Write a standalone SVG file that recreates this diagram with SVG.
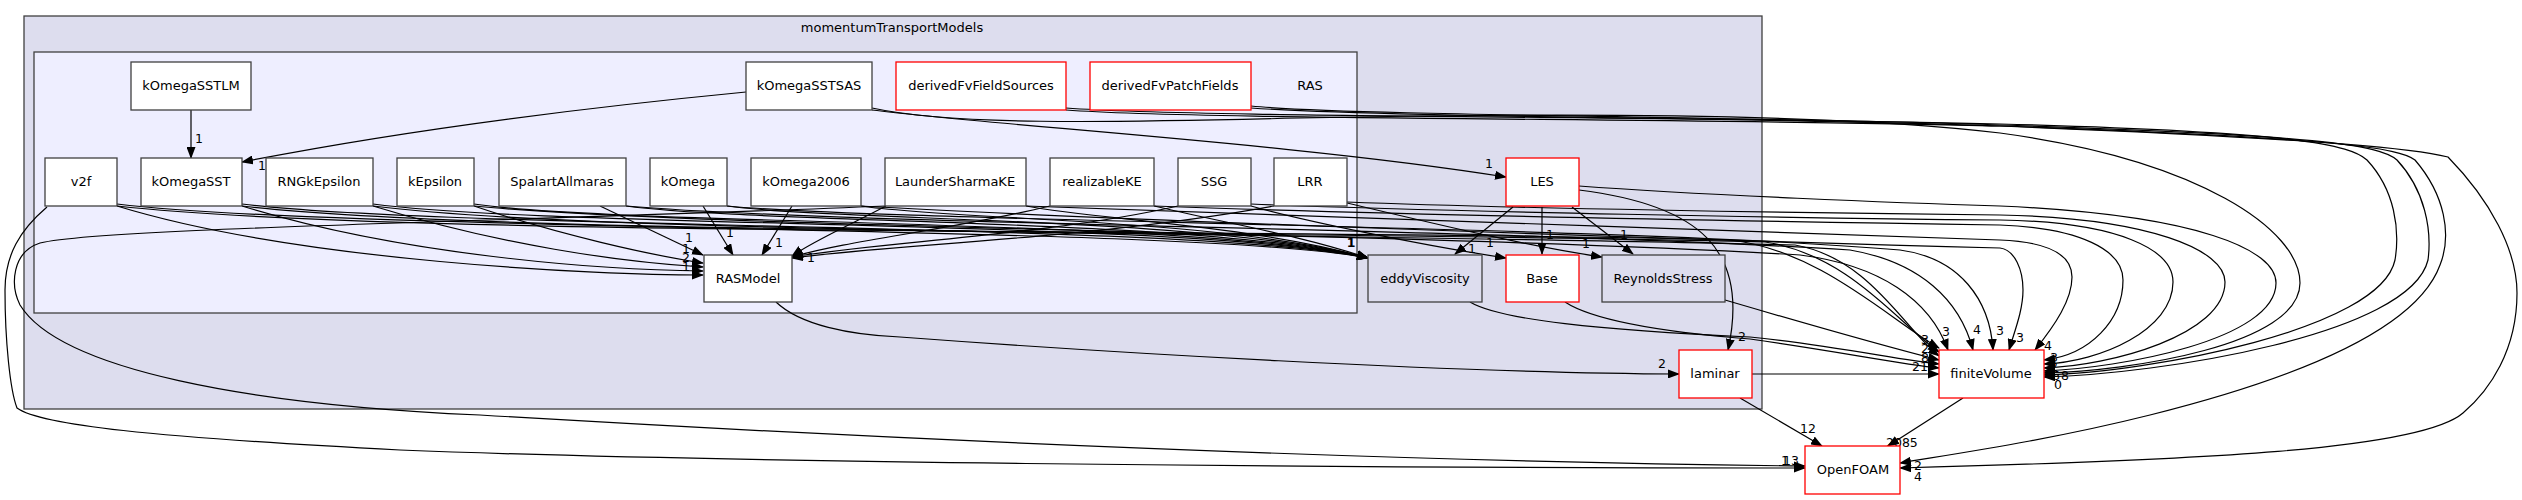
<svg xmlns="http://www.w3.org/2000/svg" width="2522" height="500" viewBox="0 0 2522 500">
<style>
text{font-family:"DejaVu Sans","Liberation Sans",sans-serif;font-size:13px;fill:#000}
.c1{fill:#ddddee;stroke:#404040;stroke-width:1.3}
.c2{fill:#eeeeff;stroke:#404040;stroke-width:1.3}
.n rect{fill:#fff;stroke:#404040;stroke-width:1.3}
.r rect{fill:#fff;stroke:#ff0000;stroke-width:1.3}
.d rect{fill:#ddddee;stroke:#404040;stroke-width:1.3}
.nt{text-anchor:middle}
#edges path{fill:none;stroke:#000;stroke-width:1.2;marker-end:url(#arr)}
.l{font-size:12.5px;text-anchor:middle}
</style>
<defs>
<marker id="arr" viewBox="0 0 12 9" refX="11" refY="4.5" markerWidth="12" markerHeight="9" orient="auto" markerUnits="userSpaceOnUse"><path d="M0,0 L12,4.5 L0,9 z" fill="#000"/></marker>
</defs>
<rect width="2522" height="500" fill="#fff"/>
<g id="clusters">
<rect class="c1" x="24" y="16" width="1738" height="393"/>
<text x="892" y="32" class="nt">momentumTransportModels</text>
<rect class="c2" x="34" y="52" width="1323" height="261"/>
<text x="1310" y="90" class="nt">RAS</text>
</g>
<g id="edges">
<path d="M191,110 L191,158"/>
<path d="M746,92 C 560,110 380,135 242,162"/>
<path d="M872,110 C 1000,126 1300,144 1506,177"/>
<path d="M872,108 C 950,125 1100,123 1300,118 C 1600,112 1850,115 2000,133 C 2200,160 2300,230 2300,283 C 2300,345 2130,371 2044,373"/>
<path d="M1066,108 C 1200,118 1700,116 2000,124 C 2300,132 2350,145 2367,160 C 2395,190 2400,230 2395,260 C 2380,330 2150,372 2044,375"/>
<path d="M1251,106 C 1350,116 1800,117 2000,125 C 2320,135 2380,145 2397,160 C 2425,190 2432,230 2428,260 C 2410,335 2160,374 2044,377"/>
<path d="M1066,110 C 1200,120 1700,118 2000,126 C 2340,138 2400,148 2415,160 C 2445,195 2452,235 2440,265 C 2420,320 2330,370 2150,415 C 2050,440 1960,453 1900,463"/>
<path d="M1251,108 C 1400,118 1800,118 2000,126 C 2350,140 2420,150 2448,157 C 2490,200 2517,250 2517,293 C 2517,350 2490,390 2463,413 C 2420,450 2200,460 1900,468"/>
<path d="M1579,186 C 1700,195 1900,203 2000,206 C 2200,215 2276,250 2276,283 C 2276,340 2120,368 2044,371"/>
<path d="M1347,202 C 1500,208 1800,213 2000,215 C 2150,218 2225,250 2225,282 C 2225,335 2110,366 2044,368"/>
<path d="M1251,204 C 1450,212 1800,218 2000,220 C 2120,222 2173,250 2173,282 C 2173,330 2100,362 2044,364"/>
<path d="M1154,206 C 1400,215 1800,222 2000,225 C 2080,228 2123,250 2123,280 C 2123,320 2090,355 2044,360"/>
<path d="M1026,206 C 1200,215 1700,228 2000,240 C 2050,242 2072,255 2072,277 C 2072,300 2055,325 2035,350"/>
<path d="M861,206 C 1100,220 1700,240 2000,248 C 2015,250 2023,270 2023,290 C 2023,310 2015,330 2009,350"/>
<path d="M727,206 C 900,222 1600,225 1900,250 C 1960,258 1990,300 1993,350"/>
<path d="M626,206 C 850,225 1500,228 1850,250 C 1920,262 1960,300 1973,350"/>
<path d="M474,206 C 700,228 1400,232 1800,255 C 1880,265 1930,300 1948,350"/>
<path d="M117,206 C 400,238 1300,228 1730,240 C 1820,250 1890,320 1939,348"/>
<path d="M242,206 C 500,236 1300,230 1765,242 C 1850,255 1900,325 1939,352"/>
<path d="M373,206 C 600,235 1300,232 1795,245 C 1870,258 1905,330 1939,356"/>
<path d="M1725,300 C 1800,322 1880,345 1939,360"/>
<path d="M1470,302 C 1500,320 1600,330 1750,337 C 1830,345 1900,360 1939,364"/>
<path d="M1565,302 C 1600,325 1700,335 1750,339 C 1830,350 1900,364 1939,368"/>
<path d="M1752,374 L1939,374"/>
<path d="M117,204 C 350,232 1200,225 1368,258"/>
<path d="M242,204 C 450,230 1200,222 1368,258"/>
<path d="M373,204 C 550,228 1200,220 1368,258"/>
<path d="M474,204 C 620,226 1200,218 1368,258"/>
<path d="M626,206 C 760,224 1200,218 1368,258"/>
<path d="M727,206 C 850,222 1200,216 1368,258"/>
<path d="M861,206 C 950,220 1220,218 1368,258"/>
<path d="M1026,206 C 1100,220 1250,225 1368,258"/>
<path d="M1154,206 C 1220,222 1300,235 1368,258"/>
<path d="M117,206 C 300,262 600,275 703,275"/>
<path d="M242,206 C 400,255 600,270 703,271"/>
<path d="M373,206 C 500,245 620,262 703,267"/>
<path d="M474,206 C 560,235 650,255 703,263"/>
<path d="M600,206 L703,255"/>
<path d="M703,206 L733,255"/>
<path d="M792,206 L762,255"/>
<path d="M886,206 C 850,225 815,240 792,256"/>
<path d="M1050,206 C 950,230 850,240 792,257"/>
<path d="M1178,206 C 1050,235 880,242 792,257"/>
<path d="M1274,206 C 1100,238 900,244 792,258"/>
<path d="M1251,206 C 1300,220 1420,245 1506,258"/>
<path d="M1347,203 C 1420,220 1520,245 1602,257"/>
<path d="M1513,207 L1455,254"/>
<path d="M1542,207 L1542,254"/>
<path d="M1572,207 L1633,254"/>
<path d="M1579,190 C 1700,205 1750,250 1728,350"/>
<path d="M776,302 C 800,325 850,335 900,337 C 1100,352 1450,373 1679,374"/>
<path d="M47,207 C 20,230 5,255 5,290 C 5,340 10,390 17,408 C 40,425 150,437 400,450 C 700,462 1300,468 1805,468"/>
<path d="M886,206 C 500,222 100,228 40,243 C 12,252 10,285 20,305 C 60,370 250,405 480,415 C 900,440 1400,462 1805,466"/>
<path d="M1740,398 L1822,446"/>
<path d="M1963,398 L1888,446"/>
</g>
<g id="edge-labels">
<text class="l" x="199" y="143">1</text>
<text class="l" x="262" y="170">1</text>
<text class="l" x="1489" y="168">1</text>
<text class="l" x="689" y="242">1</text>
<text class="l" x="730" y="237">1</text>
<text class="l" x="779" y="247">1</text>
<text class="l" x="811" y="262">1</text>
<text class="l" x="686" y="253">1</text>
<text class="l" x="686" y="262">2</text>
<text class="l" x="686" y="271">1</text>
<text class="l" x="1351" y="247" font-weight="bold">1</text>
<text class="l" x="1472" y="253">1</text>
<text class="l" x="1490" y="247">1</text>
<text class="l" x="1550" y="239">1</text>
<text class="l" x="1586" y="248">1</text>
<text class="l" x="1624" y="239">1</text>
<text class="l" x="1742" y="341">2</text>
<text class="l" x="1662" y="368">2</text>
<text class="l" x="1946" y="336">3</text>
<text class="l" x="1977" y="334">4</text>
<text class="l" x="2000" y="335">3</text>
<text class="l" x="2020" y="342">3</text>
<text class="l" x="2048" y="350">4</text>
<text class="l" x="1925" y="344">3</text>
<text class="l" x="1925" y="353">2</text>
<text class="l" x="1925" y="362">8</text>
<text class="l" x="1920" y="371">21</text>
<text class="l" x="2054" y="362">3</text>
<text class="l" x="2054" y="371">2</text>
<text class="l" x="2056" y="380">6</text>
<text class="l" x="2065" y="380">8</text>
<text class="l" x="2058" y="389">0</text>
<text class="l" x="1808" y="433">12</text>
<text x="1886" y="447" style="font-size:12.5px">2085</text>
<text class="l" x="1785" y="465">1</text>
<text class="l" x="1791" y="465">13</text>
<text class="l" x="1918" y="470">2</text>
<text class="l" x="1918" y="481">4</text>
</g>
<g id="kOmegaSSTLM" class="n"><rect x="131" y="62" width="120" height="48"/><text class="nt" x="191" y="90">kOmegaSSTLM</text></g>
<g id="kOmegaSSTSAS" class="n"><rect x="746" y="62" width="126" height="48"/><text class="nt" x="809" y="90">kOmegaSSTSAS</text></g>
<g id="derivedFvFieldSources" class="r"><rect x="896" y="62" width="170" height="48"/><text class="nt" x="981" y="90">derivedFvFieldSources</text></g>
<g id="derivedFvPatchFields" class="r"><rect x="1090" y="62" width="161" height="48"/><text class="nt" x="1170" y="90">derivedFvPatchFields</text></g>
<g id="v2f" class="n"><rect x="45" y="158" width="72" height="48"/><text class="nt" x="81" y="186">v2f</text></g>
<g id="kOmegaSST" class="n"><rect x="141" y="158" width="101" height="48"/><text class="nt" x="191" y="186">kOmegaSST</text></g>
<g id="RNGkEpsilon" class="n"><rect x="266" y="158" width="107" height="48"/><text class="nt" x="319" y="186">RNGkEpsilon</text></g>
<g id="kEpsilon" class="n"><rect x="397" y="158" width="77" height="48"/><text class="nt" x="435" y="186">kEpsilon</text></g>
<g id="SpalartAllmaras" class="n"><rect x="499" y="158" width="127" height="48"/><text class="nt" x="562" y="186">SpalartAllmaras</text></g>
<g id="kOmega" class="n"><rect x="650" y="158" width="77" height="48"/><text class="nt" x="688" y="186">kOmega</text></g>
<g id="kOmega2006" class="n"><rect x="751" y="158" width="110" height="48"/><text class="nt" x="806" y="186">kOmega2006</text></g>
<g id="LaunderSharmaKE" class="n"><rect x="885" y="158" width="141" height="48"/><text class="nt" x="955" y="186">LaunderSharmaKE</text></g>
<g id="realizableKE" class="n"><rect x="1050" y="158" width="104" height="48"/><text class="nt" x="1102" y="186">realizableKE</text></g>
<g id="SSG" class="n"><rect x="1178" y="158" width="73" height="48"/><text class="nt" x="1214" y="186">SSG</text></g>
<g id="LRR" class="n"><rect x="1274" y="158" width="73" height="48"/><text class="nt" x="1310" y="186">LRR</text></g>
<g id="LES" class="r"><rect x="1506" y="158" width="73" height="48"/><text class="nt" x="1542" y="186">LES</text></g>
<g id="RASModel" class="n"><rect x="704" y="255" width="88" height="47"/><text class="nt" x="748" y="283">RASModel</text></g>
<g id="eddyViscosity" class="d"><rect x="1368" y="255" width="114" height="47"/><text class="nt" x="1425" y="283">eddyViscosity</text></g>
<g id="Base" class="r"><rect x="1506" y="255" width="73" height="47"/><text class="nt" x="1542" y="283">Base</text></g>
<g id="ReynoldsStress" class="d"><rect x="1602" y="255" width="123" height="47"/><text class="nt" x="1663" y="283">ReynoldsStress</text></g>
<g id="laminar" class="r"><rect x="1679" y="350" width="73" height="48"/><text class="nt" x="1715" y="378">laminar</text></g>
<g id="finiteVolume" class="r"><rect x="1939" y="350" width="105" height="48"/><text class="nt" x="1991" y="378">finiteVolume</text></g>
<g id="OpenFOAM" class="r"><rect x="1805" y="446" width="95" height="48"/><text class="nt" x="1853" y="474">OpenFOAM</text></g>
</svg>
